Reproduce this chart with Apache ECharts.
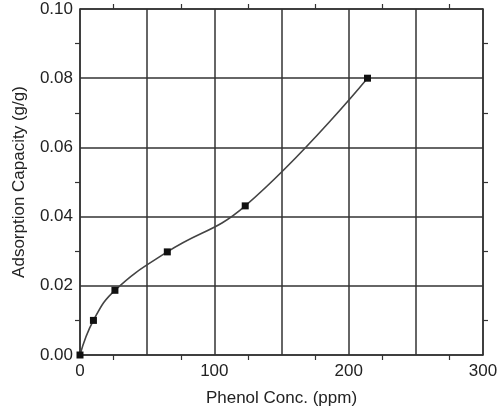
<!DOCTYPE html>
<html><head><meta charset="utf-8">
<script src="https://cdn.jsdelivr.net/npm/echarts@6/dist/echarts.min.js"></script>
<style>html,body{margin:0;padding:0;background:#fff}#c{width:501px;height:412px}</style>
</head><body><div id="c"></div>
<script>
const phenolConc = [0, 10, 26, 65, 123, 214];
const capacity = [0.000, 0.010, 0.0187, 0.0298, 0.0431, 0.0800];
const xTicks = [0, 100, 200, 300];
const yTicks = [0.00, 0.02, 0.04, 0.06, 0.08, 0.10];

const ink = '#333';
const txt = '#222';
const font = 'Liberation Sans';
const chart = echarts.init(document.getElementById('c'));
const frameAxis = {
  axisLine: {show: true, onZero: false, lineStyle: {color: ink, width: 1.5}},
  axisTick: {show: false},
  minorTick: {show: true, splitNumber: 2, length: 5, lineStyle: {color: ink, width: 1.2}},
  splitLine: {show: false}
};
chart.setOption({
  animation: false,
  backgroundColor: '#fff',
  grid: {left: 80, right: 18, top: 9, bottom: 55},
  xAxis: [{
    type: 'value', min: 0, max: 300, interval: 50, position: 'bottom',
    name: 'Phenol Conc. (ppm)', nameLocation: 'middle', nameGap: 35,
    nameTextStyle: {fontFamily: font, fontSize: 17, color: txt},
    axisLine: {show: true, onZero: false, lineStyle: {color: ink, width: 1.5}},
    axisTick: {show: false},
    minorTick: {show: true, splitNumber: 2, length: 5, lineStyle: {color: ink, width: 1.2}},
    splitLine: {show: true, lineStyle: {color: ink, width: 1.5}},
    axisLabel: {fontFamily: font, fontSize: 17, color: txt, margin: 8,
      formatter: v => xTicks.includes(v) ? String(v) : ''}
  }, Object.assign({type: 'value', min: 0, max: 300, interval: 50, position: 'top',
    axisLabel: {show: false}}, frameAxis)],
  yAxis: [{
    type: 'value', min: 0, max: 0.1, interval: 0.02, position: 'left',
    name: 'Adsorption Capacity (g/g)', nameLocation: 'middle', nameGap: 52,
    nameTextStyle: {fontFamily: font, fontSize: 17, color: txt},
    axisLine: {show: true, onZero: false, lineStyle: {color: ink, width: 1.5}},
    axisTick: {show: false},
    minorTick: {show: true, splitNumber: 2, length: 5, lineStyle: {color: ink, width: 1.2}},
    splitLine: {show: true, lineStyle: {color: ink, width: 1.5}},
    axisLabel: {fontFamily: font, fontSize: 17, color: txt, margin: 7,
      formatter: v => {const t = yTicks.find(k => Math.abs(k - v) < 1e-9); return t === undefined ? '' : t.toFixed(2);}}
  }, Object.assign({type: 'value', min: 0, max: 0.1, interval: 0.02, position: 'right',
    axisLabel: {show: false}}, frameAxis)],
  series: [{
    type: 'line', xAxisIndex: 0, yAxisIndex: 0,
    data: phenolConc.map((x, i) => [x, capacity[i]]),
    smooth: 0.45,
    symbol: 'rect', symbolSize: 7,
    itemStyle: {color: '#111'},
    lineStyle: {color: '#444', width: 1.6}
  }]
});
</script></body></html>
